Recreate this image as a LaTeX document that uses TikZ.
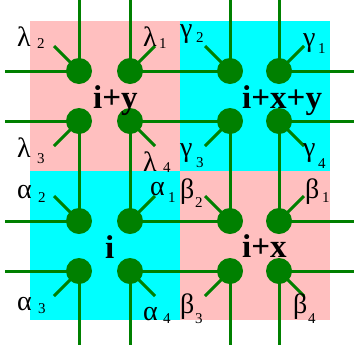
\documentclass[tikz,border=0pt]{standalone}
\usepackage{fontspec}
\setmainfont{Liberation Serif}
\usetikzlibrary{calc}
\definecolor{pinkbg}{RGB}{255,191,191}
\definecolor{cyanbg}{RGB}{0,255,255}
\definecolor{dotgreen}{RGB}{0,128,0}
\tikzset{
  wire/.style={draw=dotgreen, line width=3pt},
  site/.style={circle, fill=dotgreen, minimum size=26pt, inner sep=0pt},
  greek/.style={anchor=base west, inner sep=0pt, font=\fontsize{28}{28}\selectfont},
  cellname/.style={anchor=base west, inner sep=0pt, font=\bfseries\fontsize{33}{33}\selectfont},
}
\newcommand\glab[7]{%
  \node[greek] (#1) at (#2,#3) {\rlap{\hspace{#6pt}\raisebox{-#7pt}{\fontsize{15}{15}\selectfont #5}}#4};}
\begin{document}
\begin{tikzpicture}[x=1pt,y=-1pt]
\useasboundingbox (0,0) rectangle (355,354);
% cells
\fill[pinkbg] (30,21) rectangle (180,171);
\fill[cyanbg] (180,21) rectangle (330,171);
\fill[cyanbg] (30,171) rectangle (180,320);
\fill[pinkbg] (180,171) rectangle (330,320);
% site positions
\foreach \c/\x in {1/79,2/130,3/230,4/279}{
  \foreach \r/\y in {1/71,2/121,3/221,4/271}{
    \coordinate (p\c\r) at (\x,\y);
  }
}
% free ends
\foreach \c/\x in {1/79,2/130,3/230,4/279}{
  \coordinate (top\c) at (\x,0);
  \coordinate (bot\c) at (\x,345);
}
\foreach \r/\y in {1/71,2/121,3/221,4/271}{
  \coordinate (lft\r) at (5,\y);
  \coordinate (rgt\r) at (354,\y);
}
\foreach \c in {1,2,3,4}{
  \draw[wire] (top\c) -- (p\c1);
  \draw[wire] (p\c2) -- (p\c3);
  \draw[wire] (p\c4) -- (bot\c);
}
\foreach \r in {1,2,3,4}{
  \draw[wire] (lft\r) -- (p1\r);
  \draw[wire] (p2\r) -- (p3\r);
  \draw[wire] (p4\r) -- (rgt\r);
}
% diagonal stubs
\foreach \c/\sx in {1/-1,2/1,3/-1,4/1}{
  \foreach \r/\sy in {1/-1,2/1,3/-1,4/1}{
    \coordinate (s\c\r) at ($(p\c\r)+(25*\sx,25*\sy)$);
    \draw[wire] (p\c\r) -- (s\c\r);
  }
}
% sites
\foreach \c in {1,2,3,4}{
  \foreach \r in {1,2,3,4}{
    \node[site] (d\c\r) at (p\c\r) {};
  }
}
% cell names
\node[cellname] (n1) at (93,108) {i+y};
\node[cellname] (n2) at (242,108) {i+x+y};
\node[cellname] (n3) at (105,258) {i};
\node[cellname] (n4) at (242,257) {i+x};
% greek labels
\glab{l2}{17}{46}{λ}{2}{20}{2}
\glab{l1}{143}{46}{λ}{1}{16}{2}
\glab{l3}{17}{157}{λ}{3}{20}{6}
\glab{l4}{143}{171}{λ}{4}{20}{1}
\glab{g2}{180}{37}{γ}{2}{16}{5}
\glab{g1}{303}{46}{γ}{1}{15}{7}
\glab{g3}{180}{156}{γ}{3}{16}{11}
\glab{g4}{303}{156}{γ}{4}{15}{12}
\glab{a2}{17}{198}{α}{2}{21}{4}
\glab{a1}{150}{195}{α}{1}{18}{7}
\glab{a3}{17}{310}{α}{3}{21}{3}
\glab{a4}{143}{320}{α}{4}{20}{3}
\glab{b2}{180}{198}{β}{2}{15}{9}
\glab{b1}{305}{198}{β}{1}{17}{4}
\glab{b3}{180}{313}{β}{3}{15}{10}
\glab{b4}{293}{313}{β}{4}{15}{10}
\end{tikzpicture}
\end{document}
